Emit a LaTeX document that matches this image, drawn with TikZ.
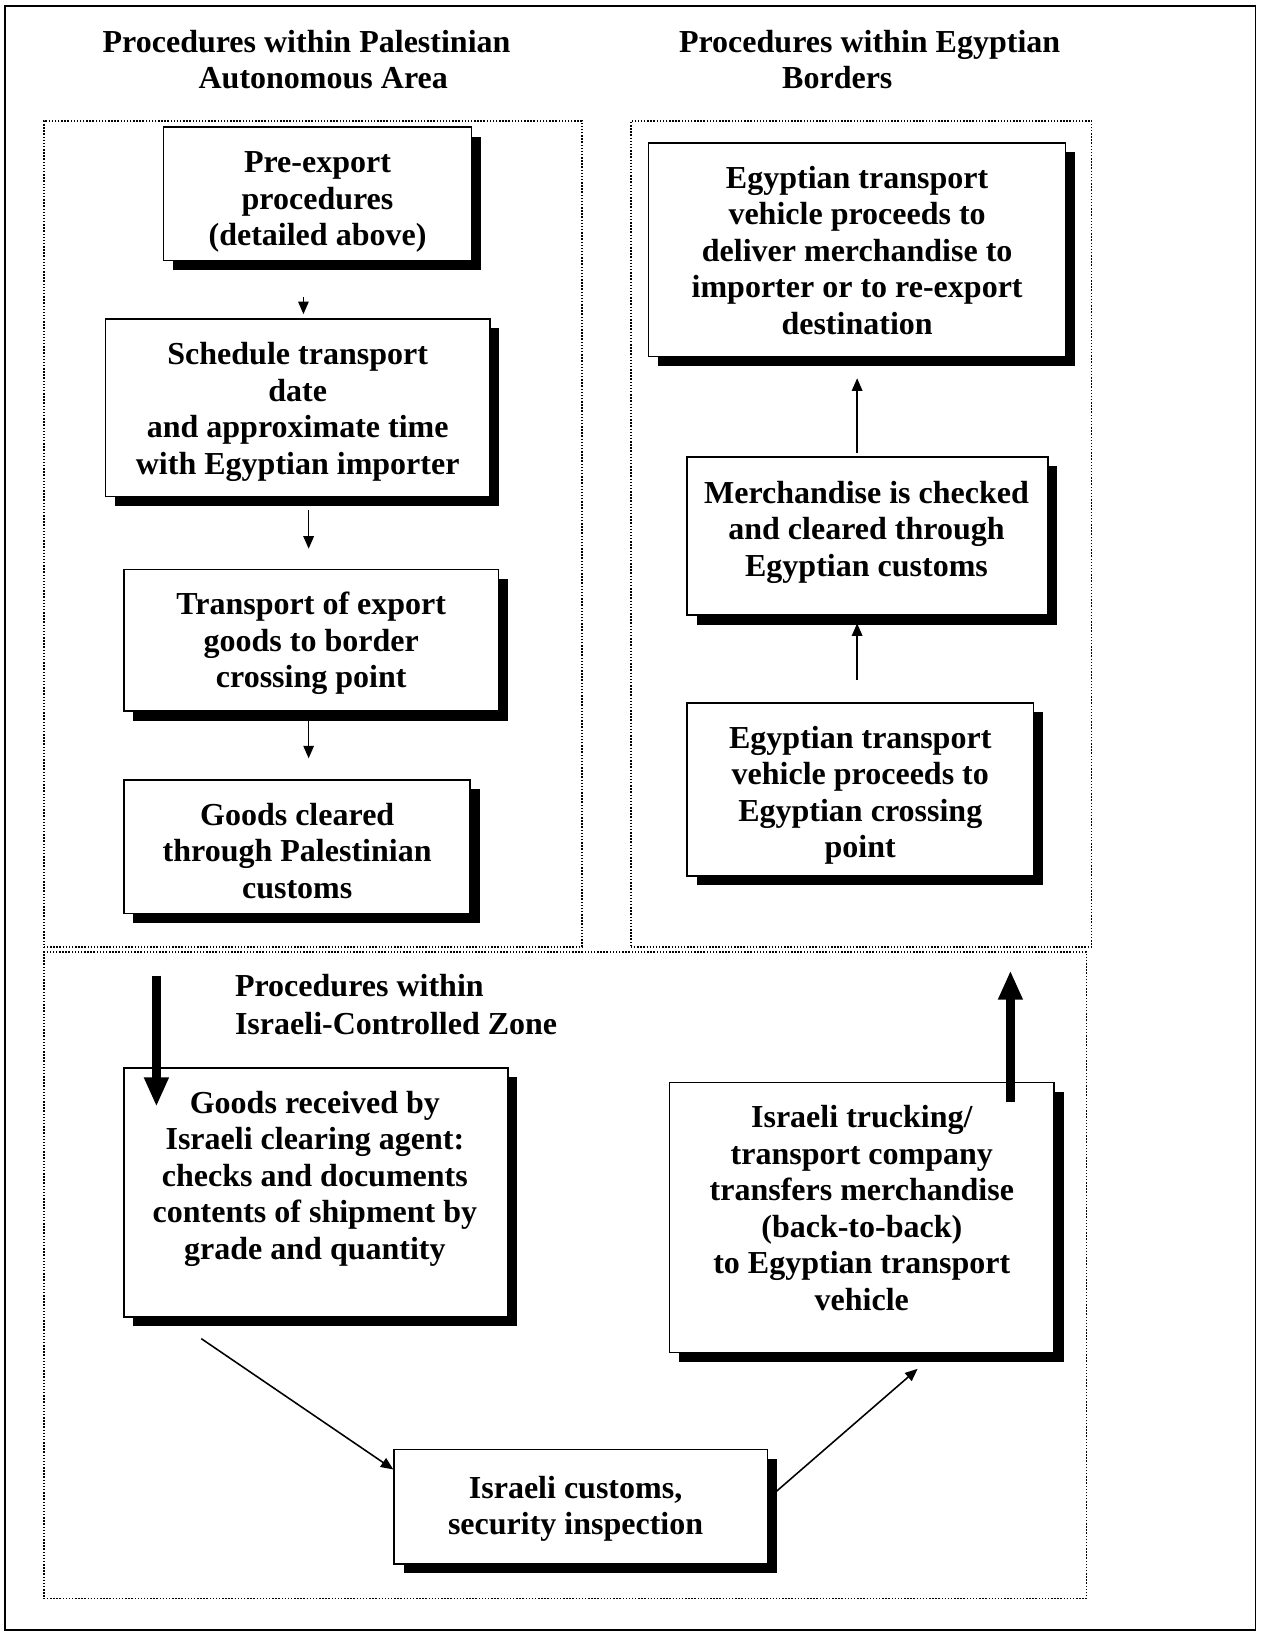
\documentclass[tikz,border=0pt]{standalone}
\usepackage{fontspec}
\setmainfont{Liberation Serif}
\usetikzlibrary{arrows.meta,shadows,fit}
\newcommand\fstrut{\rule{0pt}{12pt}}
\begin{document}
\begin{tikzpicture}[x=0.5pt,y=-0.5pt,
  box/.style={draw, fill=white, line width=0.75pt, inner sep=0pt,
    general shadow={fill=black, shadow xshift=4.5pt, shadow yshift=-4.5pt}},
  zone/.style={draw, line width=0.7pt, dash pattern=on 0.7pt off 0.8pt, inner sep=0pt},
  txt/.style={font=\bfseries\fontsize{15.35pt}{17.5pt}\selectfont, align=center, inner sep=0pt, anchor=north},
  ttl/.style={font=\bfseries\fontsize{15.35pt}{17.5pt}\selectfont, inner sep=0pt, anchor=base},
  arr/.style={line width=0.75pt, -{Triangle[length=6pt,width=5pt]}},
  bigarr/.style={line width=4pt, -{Triangle[length=14pt,width=11pt]}}
]
\useasboundingbox (0,0) rectangle (1212,1568);
\draw[line width=0.75pt] (5,6) rectangle (1204,1563);

% titles
\node[ttl] (tp1) at (294,50) {Procedures within Palestinian};
\node[ttl] (tp2) at (310,85) {Autonomous Area};
\node[ttl] (te1) at (834,50) {Procedures within Egyptian};
\node[ttl] (te2) at (803,85) {Borders};
\node[ttl, anchor=base west] (ti1) at (225,956) {Procedures within};
\node[ttl, anchor=base west] (ti2) at (225,992) {Israeli-Controlled Zone};

% zones
\node[zone, fit={(42,116) (558,908)}] (zp) {};
\node[zone, fit={(605,116) (1047,908)}] (ze) {};
\node[zone, fit={(42,913) (1042,1533)}] (zi) {};

% boxes
\node[box, fit={(157,122) (452,250)}] (b1) {};
\node[box, fit={(101,306) (470,476)}] (b2) {};
\node[box, fit={(119,546) (478,682)}] (b3) {};
\node[box, fit={(119,748) (451,876)}] (b4) {};
\node[box, fit={(622,137) (1022,342)}] (b5) {};
\node[box, fit={(659,438) (1005,590)}] (b6) {};
\node[box, fit={(659,674) (991,840)}] (b7) {};
\node[box, fit={(119,1024) (487,1263)}] (b8) {};
\node[box, fit={(642,1038) (1011,1297)}] (b9) {};
\node[box, fit={(378,1390) (736,1500)}] (b10) {};

% texts
\node[txt] (t1) at ([shift={(0,20)}]b1.north) {\fstrut Pre-export\\procedures\\(detailed above)};
\node[txt] (t2) at ([shift={(0,20)}]b2.north) {\fstrut Schedule transport\\date\\and approximate time\\with Egyptian importer};
\node[txt] (t3) at ([shift={(0,20)}]b3.north) {\fstrut Transport of export\\goods to border\\crossing point};
\node[txt] (t4) at ([shift={(0,20)}]b4.north) {\fstrut Goods cleared\\through Palestinian\\customs};
\node[txt] (t5) at ([shift={(0,20)}]b5.north) {\fstrut Egyptian transport\\vehicle proceeds to\\deliver merchandise to\\importer or to re-export\\destination};
\node[txt] (t6) at ([shift={(-1,21)}]b6.north) {\fstrut Merchandise is checked\\and cleared through\\Egyptian customs};
\node[txt] (t7) at ([shift={(0,20)}]b7.north) {\fstrut Egyptian transport\\vehicle proceeds to\\Egyptian crossing\\point};
\node[txt] (t8) at ([shift={(-1,20)}]b8.north) {\fstrut Goods received by\\Israeli clearing agent:\\checks and documents\\contents of shipment by\\grade and quantity};
\node[txt] (t9) at ([shift={(0,20)}]b9.north) {\fstrut Israeli trucking/\\transport company\\transfers merchandise\\(back-to-back)\\to Egyptian transport\\vehicle};
\node[txt] (t10) at ([shift={(-5,23)}]b10.north) {\fstrut Israeli customs,\\security inspection};

% thin arrows
\draw[arr] ([shift={(-13.5,34)}]b1.south) -- ([shift={(5.5,-4)}]b2.north);
\draw[arr] ([shift={(10.5,12)}]b2.south) -- ([shift={(-2.5,-19)}]b3.north);
\draw[arr] ([shift={(-2.5,9)}]b3.south) -- ([shift={(11,-20)}]b4.north);
\draw[arr] ([shift={(-10,-3)}]b6.north) -- ([shift={(0,20)}]b5.south);
\draw[arr] ([shift={(-3,-21)}]b7.north) -- ([shift={(-10,7)}]b6.south);
\draw[arr] ([shift={(-110,20)}]b8.south) -- ([shift={(0,20)}]b10.north west);
\draw[arr] ([shift={(0,-8)}]b10.east) -- ([shift={(53.5,15)}]b9.south);

% thick arrows
\draw[bigarr] ([shift={(-135,59)}]b4.south) -- ([shift={(-153,38)}]b8.north);
\draw[bigarr] ([shift={(142.5,20)}]b9.north) -- ([shift={(144,90)}]b7.south);
\end{tikzpicture}
\end{document}
